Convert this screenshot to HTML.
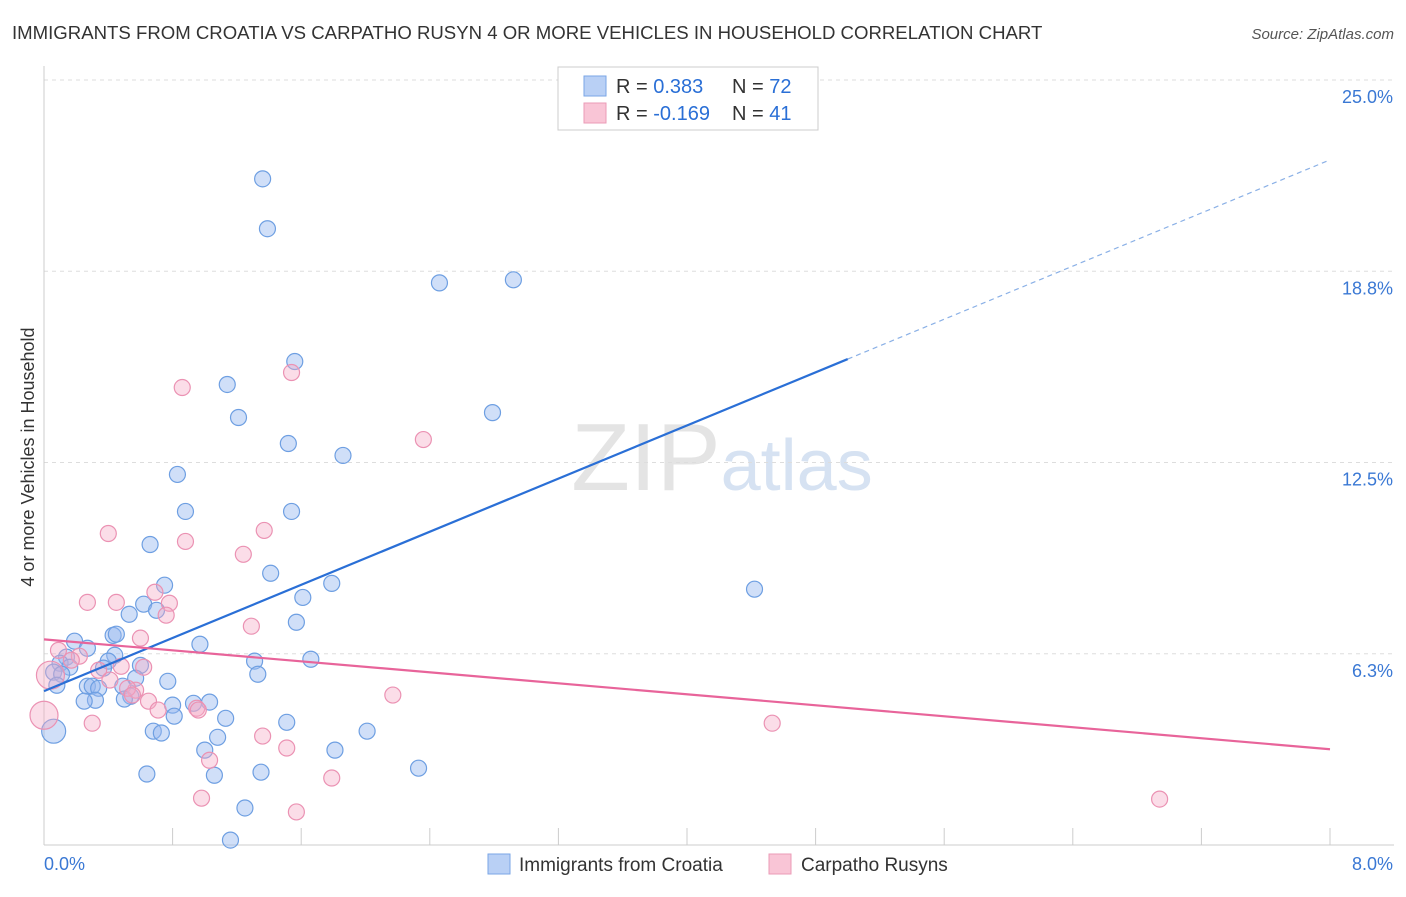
<!DOCTYPE html>
<html><head><meta charset="utf-8"><style>
body{margin:0;background:#fff;font-family:"Liberation Sans",sans-serif;}
svg text{font-family:"Liberation Sans",sans-serif;}
</style></head><body>
<svg id="chart" width="1406" height="892" xmlns="http://www.w3.org/2000/svg">
<text x="12" y="39" font-size="18.6" fill="#333">IMMIGRANTS FROM CROATIA VS CARPATHO RUSYN 4 OR MORE VEHICLES IN HOUSEHOLD CORRELATION CHART</text>
<text x="1394" y="39" font-size="15" fill="#555" text-anchor="end" font-style="italic">Source: ZipAtlas.com</text>
<text transform="translate(34,457) rotate(-90)" font-size="18" fill="#333" text-anchor="middle">4 or more Vehicles in Household</text>
<text x="722" y="490" font-size="96" text-anchor="middle" fill="#e4e4e4" font-family="Liberation Serif"><tspan>ZIP</tspan><tspan fill="#d6e2f2" font-family="Liberation Sans" font-size="72">atlas</tspan></text>
<g id="grid"></g><g id="marks"></g><g id="lines"></g>
<g>
<rect x="558" y="67" width="260" height="63" fill="#fff" stroke="#ccc"/>
<rect x="584" y="76" width="22" height="20" fill="#b9d0f5" stroke="#7aa6e6"/>
<rect x="584" y="103" width="22" height="20" fill="#f9c5d6" stroke="#eb9bb7"/>
<text x="616" y="93" font-size="20" fill="#333">R = <tspan fill="#2a6fd6"> 0.383</tspan><tspan x="732">N = </tspan><tspan fill="#2a6fd6">72</tspan></text>
<text x="616" y="120" font-size="20" fill="#333">R = <tspan fill="#2a6fd6">-0.169</tspan><tspan x="732">N = </tspan><tspan fill="#2a6fd6">41</tspan></text>
</g>
<g>
<rect x="488" y="854" width="22" height="20" fill="#b9d0f5" stroke="#7aa6e6"/>
<text x="519" y="871" font-size="19" fill="#333">Immigrants from Croatia</text>
<rect x="769" y="854" width="22" height="20" fill="#f9c5d6" stroke="#eb9bb7"/>
<text x="801" y="871" font-size="19" fill="#333">Carpatho Rusyns</text>
</g>
</svg>
<script>
const yTicks=[6.25,12.5,18.75,25];
const yTickLabels=["6.3%","12.5%","18.8%","25.0%"];
const xTickCount=10;
const xMin=0,xMax=8,yMin=0,yMax=25;
const blueX=[1.36,1.39,2.46,2.92,1.56,1.14,1.21,2.79,1.52,1.86,0.83,0.88,1.54,0.66,1.41,0.75,1.79,1.61,4.42,0.62,0.70,0.53,1.57,0.43,0.45,0.97,0.19,0.27,0.60,0.44,0.40,1.31,1.66,1.33,0.14,0.10,0.16,0.06,0.11,0.08,0.37,0.57,0.77,0.27,0.30,0.34,0.49,0.54,0.50,0.32,0.25,0.80,0.93,1.03,0.81,1.13,1.51,2.01,0.68,0.73,1.08,0.06,1.00,1.81,0.64,1.06,1.35,2.33,1.25,1.16];
const blueY=[21.77,20.14,18.37,18.47,15.80,15.05,13.97,14.13,13.12,12.73,12.11,10.90,10.90,9.82,8.88,8.49,8.55,8.09,8.36,7.87,7.67,7.54,7.28,6.85,6.89,6.56,6.66,6.43,5.87,6.20,6.01,6.01,6.07,5.58,6.14,5.94,5.81,5.65,5.58,5.22,5.78,5.45,5.35,5.19,5.19,5.12,5.19,4.86,4.77,4.73,4.70,4.57,4.63,4.67,4.21,4.14,4.01,3.72,3.72,3.66,3.52,3.72,3.10,3.10,2.32,2.28,2.38,2.51,1.21,0.16];
const pinkX=[0.86,1.54,2.36,0.40,1.37,0.88,1.24,0.69,0.27,0.45,0.78,0.76,1.29,0.60,0.09,0.22,0.17,0.48,0.62,0.34,0.41,0.57,0.52,0.55,0.65,2.17,0.71,0.95,0.96,0.00,0.30,4.53,1.36,1.51,1.03,1.79,0.98,1.57,6.94,0.04];
const pinkY=[14.95,15.44,13.25,10.18,10.28,9.92,9.50,8.26,7.93,7.93,7.90,7.51,7.15,6.76,6.36,6.17,6.04,5.84,5.81,5.71,5.39,5.06,5.12,4.90,4.70,4.90,4.41,4.47,4.41,4.24,3.98,3.98,3.56,3.17,2.77,2.19,1.53,1.08,1.50,5.55];
const bigBlue=[61];const bigPink=[29,39];
const blueTrend=[5.03,22.39];const blueSolidEnd=5.0;
const pinkTrend=[6.72,3.13];

const L=44,R=1330,T=80,B=845;
const sx=v=>L+(v-xMin)/(xMax-xMin)*(R-L);
const sy=v=>B-(v-yMin)/(yMax-yMin)*(B-T);
const NS="http://www.w3.org/2000/svg";
function mk(tag,attrs,parent){const e=document.createElementNS(NS,tag);for(const k in attrs)e.setAttribute(k,attrs[k]);parent.appendChild(e);return e;}
const grid=document.getElementById('grid'),marks=document.getElementById('marks'),lines=document.getElementById('lines');
yTicks.forEach((t,i)=>{
 const g=mk('line',{x1:L,x2:1394,y1:sy(t),y2:sy(t),stroke:'#ddd','stroke-dasharray':'4 4'},grid);
 
 
 const tx=mk('text',{x:1393,y:sy(t)+23,'font-size':18,fill:'#3a78d4','text-anchor':'end'},grid);
 tx.textContent=yTickLabels[i];
 
 
});
const ya=mk('line',{x1:L,x2:L,y1:66,y2:B,stroke:'#ccc'},grid);


const xa=mk('line',{x1:L,x2:1394,y1:B,y2:B,stroke:'#ccc'},grid);


for(let i=0;i<=xTickCount;i++){
 const v=xMin+(xMax-xMin)*i/xTickCount;
 const tk=mk('line',{x1:sx(v),x2:sx(v),y1:828,y2:B,stroke:'#ccc'},grid);
 
 
}
const x0=mk('text',{x:44,y:870,'font-size':18,fill:'#3a78d4'},grid);x0.textContent="0.0%";


const x1=mk('text',{x:1393,y:870,'font-size':18,fill:'#3a78d4','text-anchor':'end'},grid);x1.textContent="8.0%";



blueX.forEach((x,i)=>{
 const c=mk('circle',{cx:sx(x),cy:sy(blueY[i]),r:bigBlue.includes(i)?12:8,fill:'rgba(150,185,240,0.45)',stroke:'#6e9fe2','stroke-width':1.2},marks);
 
 
});
pinkX.forEach((x,i)=>{
 const c=mk('circle',{cx:sx(x),cy:sy(pinkY[i]),r:bigPink.includes(i)?14:8,fill:'rgba(246,170,198,0.4)',stroke:'#eb92b3','stroke-width':1.2},marks);
 
 
});
const bAt=x=>blueTrend[0]+(blueTrend[1]-blueTrend[0])*(x-xMin)/(xMax-xMin);
const b1=mk('line',{x1:sx(xMin),y1:sy(bAt(xMin)),x2:sx(blueSolidEnd),y2:sy(bAt(blueSolidEnd)),stroke:'#2a6fd6','stroke-width':2.2},lines);


const b2=mk('line',{x1:sx(blueSolidEnd),y1:sy(bAt(blueSolidEnd)),x2:sx(xMax),y2:sy(bAt(xMax)),stroke:'#8ab0e6','stroke-width':1.2,'stroke-dasharray':'5 4'},lines);


const p1=mk('line',{x1:sx(xMin),y1:sy(pinkTrend[0]),x2:sx(xMax),y2:sy(pinkTrend[1]),stroke:'#e8649a','stroke-width':2.2},lines);


</script>
</body></html>
